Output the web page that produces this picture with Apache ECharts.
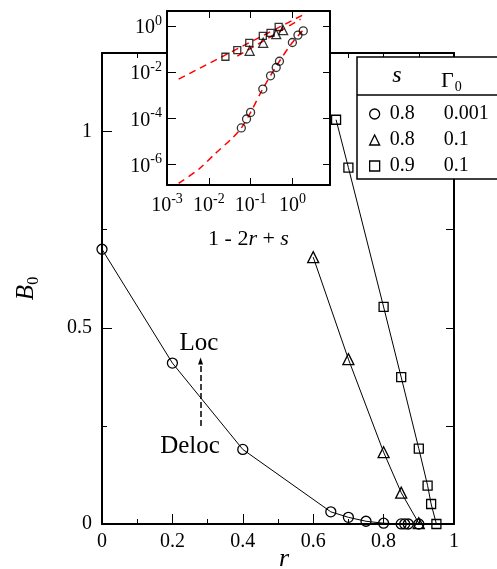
<!DOCTYPE html>
<html>
<head>
<meta charset="utf-8">
<script src="https://cdn.jsdelivr.net/npm/echarts@6/dist/echarts.min.js"></script>
<style>
  html, body { margin: 0; background: #fff; }
  #chart { width: 497px; height: 569px; }
</style>
</head>
<body>
<div id="chart"></div>
<script>
/* B0 vs r, with log-log inset of B0 vs 1 - 2r + s. */
const FONT = "Liberation Serif";

// main panel: r and B0 for the three parameter sets
const rCirc = [0, 0.2, 0.4, 0.65, 0.7, 0.75, 0.8, 0.85, 0.86, 0.87, 0.9];
const bCirc = [0.70, 0.41, 0.19, 0.031, 0.017, 0.007, 0.002, 0.0002, 0.0001, 0.00004, 0];
const rTri = [0.6, 0.7, 0.8, 0.85, 0.9];
const bTri = [0.68, 0.42, 0.183, 0.08, 0.002];
const rSq = [0.665, 0.7, 0.8, 0.85, 0.9, 0.925, 0.935, 0.95];
const bSq = [1.03, 0.908, 0.553, 0.374, 0.192, 0.098, 0.051, 0];

// inset: x = 1 - 2r + s, y = B0 (log-log)
const inXCirc = [1.82, 1.36, 1.0, 0.49, 0.41, 0.30, 0.196, 0.1, 0.08, 0.06];
const inYCirc = [0.625, 0.41, 0.196, 0.030, 0.016, 0.0070, 0.00186, 0.00018, 0.000093, 0.000038];
const inXTri = [0.095, 0.2, 0.41, 0.6];
const inYTri = [0.085, 0.19, 0.45, 0.67];
const inXSq = [0.025, 0.048, 0.093, 0.196, 0.30, 0.47];
const inYSq = [0.047, 0.091, 0.19, 0.38, 0.51, 0.93];
// red dashed fits, sampled along the drawn curves
const fitLoX = [0.0019, 0.0058, 0.0145, 0.036, 0.06, 0.1, 0.196, 0.49, 1.0, 1.89];
const fitLoY = [1.5e-7, 6.2e-7, 3.0e-6, 1.35e-5, 3.8e-5, 1.8e-4, 1.9e-3, 0.030, 0.196, 0.75];
const fitHiX = [0.0019, 1.73];
const fitHiY = [0.005, 3.0];
const fitHi2X = [0.048, 1.57];
const fitHi2Y = [0.05, 2.0];

// legend table
const legNames = ["c", "t", "sq"];
const legIcons = ["circle", "triangle", "rect"];
const legS = ["0.8", "0.8", "0.9"];
const legG = ["0.001", "0.1", "0.1"];

// annotation arrow (data coords): shaft from Deloc up to the head at Loc
const arrowR = 0.28, arrowB = [0.25, 0.405], arrowTip = 0.415;

const yTicksMain = [0, 0.5, 1];
const yMinorMain = [0.25, 0.75];
const inXTicks = [-3, -2, -1, 0];
const inYTicks = [-6, -4, -2, 0];

const zip = (xs, ys) => xs.map((x, i) => [x, ys[i]]);
const zipLog = (xs, ys) => xs.map((x, i) => [Math.log10(x), Math.log10(ys[i])]);
const OPEN = { color: "rgba(0,0,0,0)", borderColor: "#000", borderWidth: 1.3 };
const AXL = { onZero: false, lineStyle: { color: "#000", width: 2 } };
const TXT = { fontFamily: FONT, color: "#000" };
const pow10 = (v) => "{b|10}{s|" + v + "}";
const powRich = {
  b: { fontFamily: FONT, fontSize: 20, color: "#000", verticalAlign: "bottom" },
  s: { fontFamily: FONT, fontSize: 14, color: "#000", verticalAlign: "bottom", padding: [0, 0, 10, 0] },
};

// fixed plot rects; outerBoundsMode none so labels never shrink them
const MAIN = { left: 102, top: 53, width: 352, height: 471, outerBoundsMode: "none", containLabel: false };
const INSET = { left: 167, top: 11, width: 163, height: 174, outerBoundsMode: "none", containLabel: false };

const chart = echarts.init(document.getElementById("chart"));
chart.setOption({
  animation: false,
  grid: [
    MAIN,
    Object.assign({ show: true, backgroundColor: "#fff", borderWidth: 0, z: 3 }, INSET),
    MAIN,
  ],
  xAxis: [
    { gridIndex: 0, type: "value", min: 0, max: 1, interval: 0.2, position: "bottom",
      axisLine: AXL, splitLine: { show: false },
      axisTick: { inside: true, length: 10, lineStyle: { color: "#000" } },
      minorTick: { show: true, splitNumber: 2, length: 5, lineStyle: { color: "#000" } },
      axisLabel: Object.assign({ fontSize: 20, margin: 8 }, TXT),
      name: "r", nameLocation: "middle", nameGap: 22, nameMoveOverlap: false,
      nameTextStyle: Object.assign({ fontSize: 26, fontStyle: "italic", padding: [0, 0, 0, 12] }, TXT) },
    { gridIndex: 0, type: "value", min: 0, max: 1, interval: 0.1, position: "top",
      axisLine: AXL, splitLine: { show: false }, axisLabel: { show: false },
      axisTick: { inside: true, length: 5, lineStyle: { color: "#000" } } },
    { gridIndex: 1, type: "value", min: -3, max: 0.9, position: "bottom", z: 4,
      axisLine: AXL, splitLine: { show: false },
      axisTick: { inside: true, length: 7, customValues: inXTicks, lineStyle: { color: "#000" } },
      axisLabel: { customValues: inXTicks, margin: 7, formatter: pow10, rich: powRich },
      name: "1 - 2{i|r} + {i|s}", nameLocation: "middle", nameGap: 43,
      nameTextStyle: Object.assign({ fontSize: 22,
        rich: { i: { fontFamily: FONT, fontSize: 22, fontStyle: "italic", color: "#000" } } }, TXT) },
    { gridIndex: 1, type: "value", min: -3, max: 0.9, position: "top", z: 4,
      axisLine: AXL, splitLine: { show: false }, axisLabel: { show: false },
      axisTick: { inside: true, length: 7, customValues: inXTicks, lineStyle: { color: "#000" } } },
    { gridIndex: 2, type: "value", min: 0, max: 1, show: false },
  ],
  yAxis: [
    { gridIndex: 0, type: "value", min: 0, max: 1.2, position: "left",
      axisLine: AXL, splitLine: { show: false },
      axisTick: { inside: true, length: 10, customValues: yTicksMain, lineStyle: { color: "#000" } },
      axisLabel: Object.assign({ fontSize: 20, margin: 10, customValues: yTicksMain }, TXT),
      name: "{i|B}{s|0}", nameLocation: "middle", nameGap: 60,
      nameTextStyle: { rich: {
        i: { fontFamily: FONT, fontSize: 25, fontStyle: "italic", color: "#000", verticalAlign: "top" },
        s: { fontFamily: FONT, fontSize: 16, color: "#000", verticalAlign: "top", padding: [12, 0, 0, 0] } } } },
    { gridIndex: 0, type: "value", min: 0, max: 1.2, position: "right",
      axisLine: AXL, splitLine: { show: false }, axisLabel: { show: false },
      axisTick: { inside: true, length: 8, customValues: [0.25, 0.5, 0.75, 1], lineStyle: { color: "#000" } } },
    { gridIndex: 1, type: "value", min: -6.9, max: 0.66, position: "left", z: 4,
      axisLine: AXL, splitLine: { show: false },
      axisTick: { inside: true, length: 9, customValues: inYTicks, lineStyle: { color: "#000" } },
      axisLabel: { customValues: inYTicks, margin: 5, formatter: pow10, rich: powRich } },
    { gridIndex: 1, type: "value", min: -6.9, max: 0.66, position: "right", z: 4,
      axisLine: AXL, splitLine: { show: false }, axisLabel: { show: false },
      axisTick: { inside: true, length: 7, customValues: inYTicks, lineStyle: { color: "#000" } } },
    { gridIndex: 2, type: "value", min: 0, max: 1.2, position: "left",
      axisLine: { show: false }, splitLine: { show: false }, axisLabel: { show: false },
      axisTick: { inside: true, length: 5, customValues: yMinorMain, lineStyle: { color: "#000" } } },
  ],
  legend: {
    orient: "vertical", left: 369, top: 102, padding: 0, itemWidth: 10, itemHeight: 10, itemGap: 2,
    selectedMode: false, z: 12,
    itemStyle: OPEN,
    data: legNames.map((n, i) => ({ name: n, icon: legIcons[i] })),
    formatter: (n) => { const i = legNames.indexOf(n); return "{a|" + legS[i] + "}{b|" + legG[i] + "}"; },
    textStyle: { lineHeight: 24, rich: {
      a: { fontFamily: FONT, fontSize: 20, color: "#000", width: 54, lineHeight: 24, padding: [0, 0, 0, 5] },
      b: { fontFamily: FONT, fontSize: 20, color: "#000", lineHeight: 24 } } },
  },
  graphic: [
    { type: "rect", z: 10, shape: { x: 357, y: 57, width: 150, height: 122 },
      style: { fill: "#fff", stroke: "#000", lineWidth: 1.5 } },
    { type: "line", z: 11, shape: { x1: 357, y1: 95, x2: 497, y2: 95 },
      style: { stroke: "#000", lineWidth: 1.5 } },
    { type: "text", z: 11, x: 397, y: 76,
      style: { text: "s", font: "italic 24px " + FONT, fill: "#000", align: "center", verticalAlign: "middle" } },
    { type: "text", z: 11, x: 441, y: 68,
      style: { text: "Γ{s|0}", font: "22px " + FONT, fill: "#000", verticalAlign: "top",
        rich: { s: { font: "14px " + FONT, fill: "#000", padding: [12, 0, 0, 1] } } } },
    { type: "text", z: 11, x: 199, y: 343,
      style: { text: "Loc", font: "25px " + FONT, fill: "#000", align: "center", verticalAlign: "middle" } },
    { type: "text", z: 11, x: 190, y: 446,
      style: { text: "Deloc", font: "25px " + FONT, fill: "#000", align: "center", verticalAlign: "middle" } },
  ],
  series: [
    { name: "c", type: "line", xAxisIndex: 0, yAxisIndex: 0, data: zip(rCirc, bCirc),
      symbol: "circle", symbolSize: 10, itemStyle: OPEN, lineStyle: { color: "#000", width: 1 } },
    { name: "t", type: "line", xAxisIndex: 0, yAxisIndex: 0, data: zip(rTri, bTri),
      symbol: "triangle", symbolSize: 11, itemStyle: OPEN, lineStyle: { color: "#000", width: 1 } },
    { name: "sq", type: "line", xAxisIndex: 0, yAxisIndex: 0, data: zip(rSq, bSq),
      symbol: "rect", symbolSize: 9, itemStyle: OPEN, lineStyle: { color: "#000", width: 1 } },
    // dashed Deloc -> Loc arrow: dashed shaft + filled head
    { name: "arrow", type: "line", xAxisIndex: 0, yAxisIndex: 0, data: [],
      markLine: { silent: true, symbol: ["none", "none"], label: { show: false },
        lineStyle: { color: "#000", width: 1.5, type: [6, 3] },
        data: [[{ coord: [arrowR, arrowB[0]] }, { coord: [arrowR, arrowB[1]] }]] },
      markPoint: { silent: true, symbol: "triangle", symbolSize: [5, 7], label: { show: false },
        itemStyle: { color: "#000" },
        data: [{ coord: [arrowR, arrowTip] }] } },
    // inset fits
    { name: "fitLo", type: "line", xAxisIndex: 2, yAxisIndex: 2, data: zipLog(fitLoX, fitLoY), z: 5,
      symbol: "none", smooth: 0.3, lineStyle: { color: "#ff0000", width: 1.5, type: [7, 5] } },
    { name: "fitHi", type: "line", xAxisIndex: 2, yAxisIndex: 2, data: zipLog(fitHiX, fitHiY), z: 5,
      symbol: "none", lineStyle: { color: "#ff0000", width: 1.5, type: [7, 5] } },
    { name: "fitHi2", type: "line", xAxisIndex: 2, yAxisIndex: 2, data: zipLog(fitHi2X, fitHi2Y), z: 5,
      symbol: "none", lineStyle: { color: "#ff0000", width: 1.5, type: [7, 5] } },
    // inset points
    { name: "c", type: "scatter", xAxisIndex: 2, yAxisIndex: 2, data: zipLog(inXCirc, inYCirc), z: 6,
      symbol: "circle", symbolSize: 8, itemStyle: OPEN },
    { name: "t", type: "scatter", xAxisIndex: 2, yAxisIndex: 2, data: zipLog(inXTri, inYTri), z: 6,
      symbol: "triangle", symbolSize: 9, itemStyle: OPEN },
    { name: "sq", type: "scatter", xAxisIndex: 2, yAxisIndex: 2, data: zipLog(inXSq, inYSq), z: 6,
      symbol: "rect", symbolSize: 7, itemStyle: OPEN },
  ],
});
</script>
</body>
</html>
